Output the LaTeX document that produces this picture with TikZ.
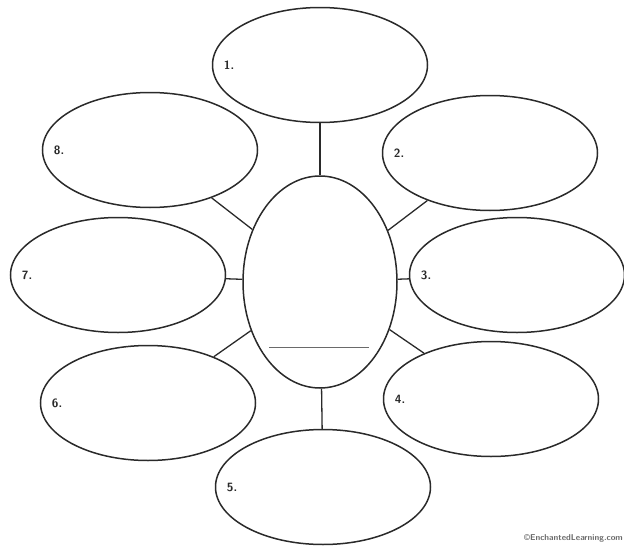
\documentclass[tikz,border=0pt]{standalone}
\usepackage{tikz}
\usetikzlibrary{shapes.geometric,positioning}
\definecolor{ink}{HTML}{2A2A2A}
\definecolor{faint}{HTML}{6A6A6A}
\tikzset{
  pet/.style ={draw=ink, ellipse, line width=1.5pt, inner sep=0pt,
               minimum width=215pt, minimum height=115pt},
  hub/.style ={pet, minimum width=154pt, minimum height=212pt},
  lnk/.style ={draw=ink, line width=1.3pt},
  rul/.style ={draw=faint, line width=0.9pt},
  num/.style ={font=\sffamily\bfseries\fontsize{12}{14}\selectfont, text=ink, inner sep=0pt},
}
\begin{document}
\begin{tikzpicture}[x=1pt,y=1pt]
\useasboundingbox (0,0) rectangle (624,-546);
\node[hub] (c)  at (320,-282) {};
\node[pet] (e1) at (320,-65)  {};
\node[pet] (e2) at (490,-153) {};
\node[pet] (e3) at (517,-275) {};
\node[pet] (e4) at (491,-399) {};
\node[pet] (e5) at (323,-487) {};
\node[pet] (e6) at (148,-403) {};
\node[pet] (e7) at (118,-275) {};
\node[pet] (e8) at (150,-150) {};
\foreach \k in {1,...,8}
  \draw[lnk] (c) -- (e\k);
\foreach \k in {1,...,8}
  \node[num, right=12pt of e\k.west] {\k.};
% blank title line inside the hub
\draw[rul] (269,-347) -- (369,-347);
\node[font=\sffamily\bfseries\fontsize{8.5}{10}\selectfont, text=faint, anchor=east, inner sep=1pt]
  (wm) at (624,-538) {\textcopyright EnchantedLearning.com};
\end{tikzpicture}
\end{document}
